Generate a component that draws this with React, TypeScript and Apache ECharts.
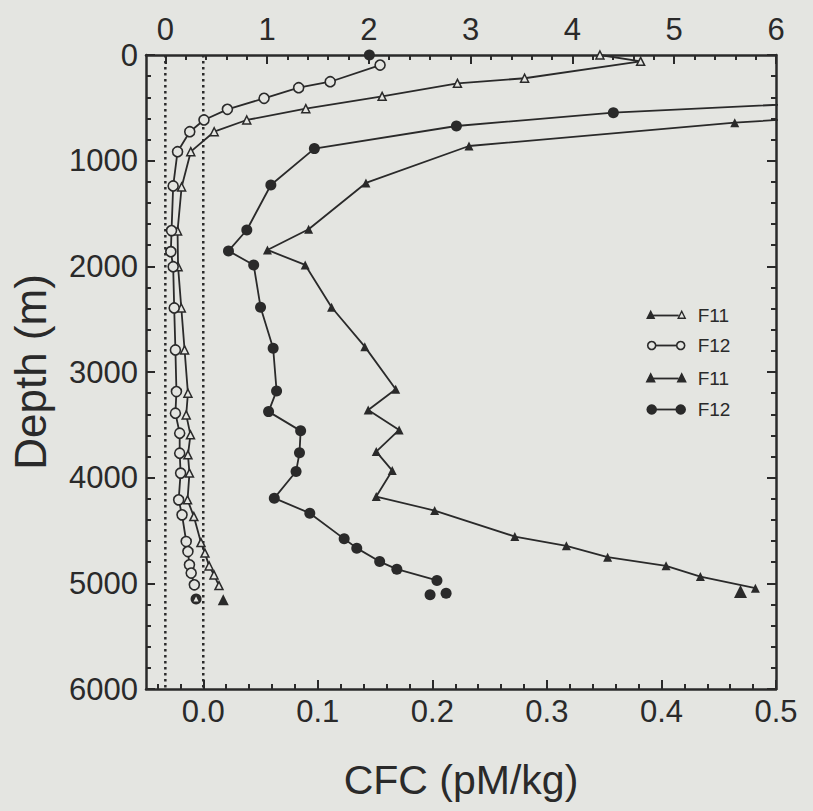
import React, { useEffect, useRef } from "react";
import * as echarts from "echarts";

// ---------- data ----------
const depthTicks = [0, 1000, 2000, 3000, 4000, 5000, 6000];
const topTicks = [0, 1, 2, 3, 4, 5, 6];
const bottomTicks = [0, 0.1, 0.2, 0.3, 0.4, 0.5];

// open triangles (F11, top scale)
const otDepth = [0, 60, 220, 268, 391, 508, 615, 726, 915, 1249, 1665, 2003, 2394, 2791, 3201, 3406, 3595, 3784, 3957, 4210, 4368, 4614, 4714, 4835, 4920, 5021];
const otF11 = [4.27, 4.67, 3.53, 2.87, 2.13, 1.38, 0.8, 0.48, 0.25, 0.16, 0.12, 0.125, 0.157, 0.189, 0.222, 0.205, 0.247, 0.222, 0.237, 0.218, 0.28, 0.35, 0.389, 0.43, 0.478, 0.527];
const otBottomDepth = [5156];
const otBottomF11 = [0.569];

// open circles (F12, top scale)
const ocDepth = [95, 253, 309, 410, 514, 615, 726, 915, 1239, 1662, 1861, 2003, 2394, 2791, 3185, 3390, 3579, 3768, 3957, 4210, 4352, 4604, 4699, 4825, 4903, 5014];
const ocF12 = [2.11, 1.62, 1.31, 0.97, 0.61, 0.38, 0.24, 0.12, 0.077, 0.061, 0.054, 0.077, 0.087, 0.099, 0.109, 0.099, 0.141, 0.141, 0.15, 0.131, 0.164, 0.205, 0.222, 0.237, 0.254, 0.285];
const ocBottomDepth = [5149];
const ocBottomF12 = [0.302];

// filled circles (F12, bottom scale)
const fcSurfaceDepth = [0];
const fcSurfaceF12 = [0.145];
const fcDepth = [367, 546, 672, 886, 1230, 1656, 1854, 1987, 2387, 2775, 3179, 3375, 3557, 3765, 3942, 4194, 4336, 4579, 4667, 4794, 4866, 4973];
const fcF12 = [0.7, 0.358, 0.221, 0.097, 0.059, 0.038, 0.022, 0.044, 0.05, 0.061, 0.064, 0.057, 0.085, 0.084, 0.081, 0.062, 0.093, 0.123, 0.134, 0.154, 0.169, 0.204];
const fcBottomDepth = [5109, 5093];
const fcBottomF12 = [0.198, 0.212];

// filled triangles (F11, bottom scale)
const ftDepth = [480, 640, 861, 1211, 1649, 1845, 1987, 2387, 2760, 3163, 3359, 3548, 3753, 3933, 4179, 4311, 4557, 4645, 4752, 4834, 4936, 5046];
const ftF11 = [0.7, 0.464, 0.232, 0.142, 0.092, 0.056, 0.089, 0.112, 0.141, 0.168, 0.144, 0.171, 0.151, 0.165, 0.151, 0.202, 0.272, 0.317, 0.353, 0.404, 0.434, 0.482];
const ftBottomDepth = [5077];
const ftBottomF11 = [0.469];

const legendLabels = ["F11", "F12", "F11", "F12"];

// ---------- style ----------
const INK = "#2a2a2a";
const BG = "#e4e5e1";
const FONT = "'Liberation Sans', Arial, Helvetica, sans-serif";

function pairs(xs: number[], ys: number[]) {
  return xs.map((x, i) => [x, ys[i]]);
}
function steps(from: number, to: number, step: number) {
  const out: number[] = [];
  const n = Math.round((to - from) / step);
  for (let i = 0; i <= n; i++) out.push(+(from + i * step).toFixed(4));
  return out;
}

const topMinor = steps(0, 6, 0.2);
const bottomMinor = steps(-0.04, 0.5, 0.02);

export default function App() {
  const ref = useRef<HTMLDivElement>(null);
  useEffect(() => {
    document.body.style.margin = "0";
    document.body.style.background = BG;
    const chart = echarts.init(ref.current!, null, { renderer: "svg" });
    const labelStyle = { color: INK, fontSize: 31, fontFamily: FONT };
    const baseX = (pos: string, min: number, max: number) => ({
      type: "value",
      position: pos,
      min,
      max,
      splitLine: { show: false },
      axisLine: { show: true, onZero: false, lineStyle: { color: INK, width: 2.5 } },
    });
    const option: any = {
      animation: false,
      backgroundColor: BG,
      grid: { left: 134, top: 55, width: 642, height: 634, containLabel: false },
      xAxis: [
        {
          ...baseX("bottom", -0.05, 0.5),
          name: "CFC (pM/kg)",
          nameLocation: "middle",
          nameGap: 70,
          nameTextStyle: { color: INK, fontSize: 41, fontFamily: FONT },
          axisTick: { show: true, inside: true, length: 9, customValues: bottomTicks, lineStyle: { color: INK, width: 2 } },
          axisLabel: { show: true, customValues: bottomTicks, margin: 7, formatter: (v: number) => v.toFixed(1), ...labelStyle },
        },
        {
          ...baseX("top", -0.19, 6),
          axisTick: { show: true, inside: true, length: 9, customValues: topTicks, lineStyle: { color: INK, width: 2 } },
          axisLabel: { show: true, customValues: topTicks, margin: 10, formatter: (v: number) => String(v), ...labelStyle },
        },
        {
          ...baseX("bottom", -0.05, 0.5),
          axisLine: { show: false, onZero: false },
          axisTick: { show: true, inside: true, length: 5, customValues: bottomMinor, lineStyle: { color: INK, width: 2 } },
          axisLabel: { show: false },
        },
        {
          ...baseX("top", -0.19, 6),
          axisLine: { show: false, onZero: false },
          axisTick: { show: true, inside: true, length: 5, customValues: topMinor, lineStyle: { color: INK, width: 2 } },
          axisLabel: { show: false },
        },
      ],
      yAxis: [
        {
          type: "value",
          position: "left",
          inverse: true,
          min: 0,
          max: 6000,
          interval: 1000,
          name: "Depth (m)",
          nameLocation: "middle",
          nameRotate: 90,
          nameGap: 94,
          nameTextStyle: { color: INK, fontSize: 44, fontFamily: FONT },
          splitLine: { show: false },
          axisLine: { show: true, onZero: false, lineStyle: { color: INK, width: 2.5 } },
          axisTick: { show: true, inside: true, length: 9, lineStyle: { color: INK, width: 2 } },
          minorTick: { show: true, splitNumber: 5, length: 5, lineStyle: { color: INK, width: 2 } },
          axisLabel: { show: true, margin: 8, formatter: (v: number) => String(v), customValues: depthTicks, ...labelStyle },
        },
        {
          type: "value",
          position: "right",
          inverse: true,
          min: 0,
          max: 6000,
          interval: 1000,
          splitLine: { show: false },
          axisLine: { show: true, onZero: false, lineStyle: { color: INK, width: 2.5 } },
          axisTick: { show: true, inside: true, length: 9, lineStyle: { color: INK, width: 2 } },
          minorTick: { show: true, splitNumber: 5, length: 5, lineStyle: { color: INK, width: 2 } },
          axisLabel: { show: false },
        },
      ],
      series: [
        {
          type: "line",
          name: "zero-top",
          xAxisIndex: 1,
          yAxisIndex: 0,
          data: [[0, 0], [0, 6000]],
          symbol: "none",
          lineStyle: { color: INK, width: 2.5, type: [2.5, 3.5] },
          silent: true,
        },
        {
          type: "line",
          name: "zero-bottom",
          xAxisIndex: 0,
          yAxisIndex: 0,
          data: [[0, 0], [0, 6000]],
          symbol: "none",
          lineStyle: { color: INK, width: 2.5, type: [2.5, 3.5] },
          silent: true,
        },
        {
          type: "line",
          name: "F11 open",
          xAxisIndex: 1,
          yAxisIndex: 0,
          data: pairs(otF11, otDepth),
          symbol: "triangle",
          symbolSize: 8,
          itemStyle: { color: BG, borderColor: INK, borderWidth: 1.5 },
          lineStyle: { color: INK, width: 1.8 },
        },
        {
          type: "line",
          name: "F12 open",
          xAxisIndex: 1,
          yAxisIndex: 0,
          data: pairs(ocF12, ocDepth),
          symbol: "circle",
          symbolSize: 10,
          itemStyle: { color: BG, borderColor: INK, borderWidth: 1.6 },
          lineStyle: { color: INK, width: 1.8 },
        },
        {
          type: "scatter",
          name: "F12 open bottom",
          xAxisIndex: 1,
          yAxisIndex: 0,
          data: pairs(ocBottomF12, ocBottomDepth),
          symbol: "circle",
          symbolSize: 11,
          itemStyle: { color: INK, opacity: 1 },
        },
        {
          type: "scatter",
          name: "F12 open bottom inner",
          xAxisIndex: 1,
          yAxisIndex: 0,
          data: pairs(ocBottomF12, ocBottomDepth),
          symbol: "triangle",
          symbolSize: 5,
          itemStyle: { color: BG, opacity: 1 },
        },
        {
          type: "scatter",
          name: "F11 open bottom",
          xAxisIndex: 1,
          yAxisIndex: 0,
          data: pairs(otBottomF11, otBottomDepth),
          symbol: "triangle",
          symbolSize: 11,
          itemStyle: { color: INK, opacity: 1 },
        },
        {
          type: "line",
          name: "F12 filled",
          xAxisIndex: 0,
          yAxisIndex: 0,
          data: pairs(fcF12, fcDepth),
          symbol: "circle",
          symbolSize: 11,
          itemStyle: { color: INK },
          lineStyle: { color: INK, width: 1.8 },
        },
        {
          type: "scatter",
          name: "F12 filled extra",
          xAxisIndex: 0,
          yAxisIndex: 0,
          data: pairs(fcSurfaceF12, fcSurfaceDepth).concat(pairs(fcBottomF12, fcBottomDepth)),
          symbol: "circle",
          symbolSize: 11,
          itemStyle: { color: INK, opacity: 1 },
        },
        {
          type: "line",
          name: "F11 filled",
          xAxisIndex: 0,
          yAxisIndex: 0,
          data: pairs(ftF11, ftDepth),
          symbol: "triangle",
          symbolSize: 9,
          itemStyle: { color: INK },
          lineStyle: { color: INK, width: 1.8 },
        },
        {
          type: "scatter",
          name: "F11 filled extra",
          xAxisIndex: 0,
          yAxisIndex: 0,
          data: pairs(ftBottomF11, ftBottomDepth),
          symbol: "triangle",
          symbolSize: 13,
          itemStyle: { color: INK, opacity: 1 },
        },
      ],
      graphic: [
        {
          type: "group",
          left: 646,
          top: 306,
          children: (() => {
            const els: any[] = [];
            const rowY = [11, 41, 74, 105];
            const tri = (cx: number, cy: number, s: number, filled: boolean) => ({
              type: "polygon",
              shape: { points: [[cx, cy - s * 0.6], [cx - s / 2, cy + s * 0.4], [cx + s / 2, cy + s * 0.4]] },
              style: { fill: filled ? INK : BG, stroke: INK, lineWidth: 1.4 },
            });
            const circ = (cx: number, cy: number, r: number, filled: boolean) => ({
              type: "circle",
              shape: { cx, cy, r },
              style: { fill: filled ? INK : BG, stroke: INK, lineWidth: 1.6 },
            });
            rowY.forEach((y, i) => {
              els.push({ type: "line", shape: { x1: 6, y1: y, x2: 32, y2: y }, style: { stroke: INK, lineWidth: 1.8 } });
              if (i === 0) {
                els.push(tri(4, y, 7, true));
                els.push(tri(35, y, 7, false));
              } else if (i === 1) {
                els.push(circ(5, y, 4, false));
                els.push(circ(34, y, 4, false));
              } else if (i === 2) {
                els.push(tri(4, y, 8, true));
                els.push(tri(35, y, 8, true));
              } else {
                els.push(circ(5, y, 4.5, true));
                els.push(circ(34, y, 4.5, true));
              }
              els.push({
                type: "text",
                x: 51,
                y,
                style: { text: legendLabels[i], fill: INK, fontSize: 19, fontFamily: FONT, textVerticalAlign: "middle" },
              });
            });
            return els;
          })(),
        },
      ],
    };
    chart.setOption(option);
    return () => chart.dispose();
  }, []);
  return (
    <div
      ref={ref}
      style={{ position: "fixed", left: 0, top: 0, width: 813, height: 811, background: BG }}
    />
  );
}
